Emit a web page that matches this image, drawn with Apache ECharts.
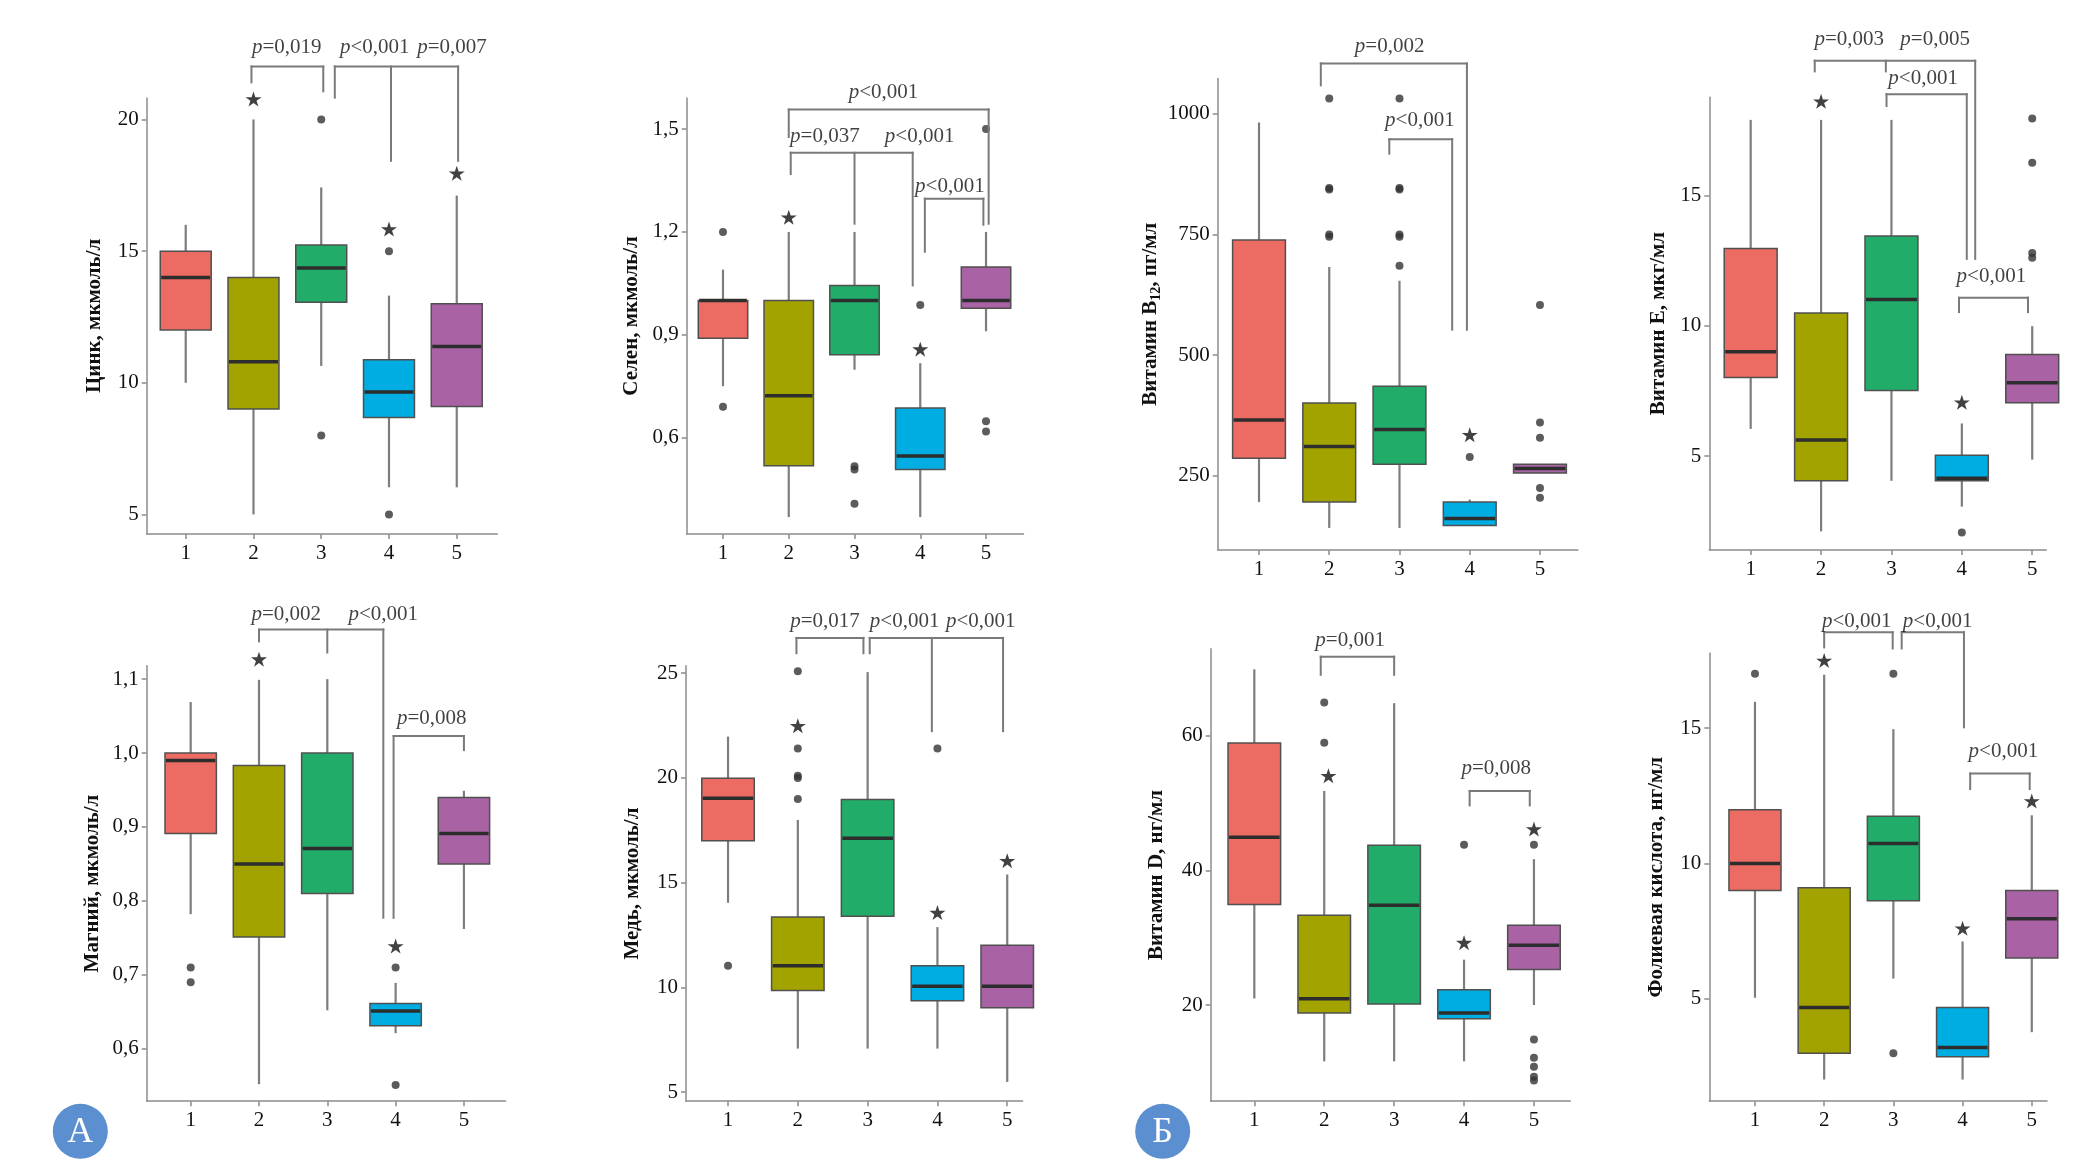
<!DOCTYPE html>
<html>
<head>
<meta charset="utf-8">
<script src="https://cdn.jsdelivr.net/npm/echarts@6/dist/echarts.min.js"></script>
<style>html,body{margin:0;padding:0;background:#fff;}#chart{width:2075px;height:1164px;}</style>
</head>
<body>
<div id="chart"></div>
<script>
// ---------- DATA ----------
const categories = ['1', '2', '3', '4', '5'];

// box = [min, Q1, median, Q3, max] per group
const zincBox = [[10, 12, 14, 15, 16], [5, 9, 10.8, 14, 20], [10.64, 13.06, 14.36, 15.23, 17.42], [6.03, 8.68, 9.65, 10.87, 13.31], [6.03, 9.1, 11.38, 13, 17.11]];
const zincOutliers = [[3, 20], [3, 8], [4, 15], [4, 5]];
const zincStars = [[2, 20.78], [4, 15.84], [5, 17.96]];
const zincTicks = ['5', '10', '15', '20'];
const zincBrackets = [{top: 22.01, legs: [[1.97, 21.41], [3.03, 21.07]]}, {top: 22.01, legs: [[3.2, 20.83], [4.03, 18.43], [5.02, 18.43]]}];
const zincPValues = [[2.49, 22.75, 'p=0,019'], [3.79, 22.75, 'p<0,001'], [4.93, 22.75, 'p=0,007']];

const seleniumBox = [[0.75, 0.89, 1.0, 1.0, 1.09], [0.368, 0.518, 0.722, 1.0, 1.2], [0.798, 0.842, 1.0, 1.044, 1.2], [0.368, 0.507, 0.546, 0.686, 0.817], [0.91, 0.977, 1.0, 1.098, 1.2]];
const seleniumOutliers = [[1, 1.2], [1, 0.69], [3, 0.516], [3, 0.507], [3, 0.407], [4, 0.987], [5, 1.5], [5, 0.648], [5, 0.618]];
const seleniumStars = [[2, 1.243], [4, 0.858]];
const seleniumTicks = ['0,6', '0,9', '1,2', '1,5'];
const seleniumBrackets = [{top: 1.557, legs: [[2.0, 1.477], [5.04, 1.224]]}, {top: 1.431, legs: [[2.03, 1.369], [3.0, 1.224], [3.885, 1.044]]}, {top: 1.297, legs: [[4.07, 1.142], [4.96, 1.221]]}];
const seleniumPValues = [[3.44, 1.606, 'p<0,001'], [2.55, 1.477, 'p=0,037'], [3.99, 1.477, 'p<0,001'], [4.45, 1.333, 'p<0,001']];

const b12Box = [[195.8, 286.7, 365.9, 738.3, 981.7], [142.3, 195.8, 310.9, 401, 682.6], [142.3, 274.2, 346, 435.5, 654], [147.4, 147.4, 162, 195.8, 201], [255.9, 255.9, 265.4, 274.2, 274.2]];
const b12Outliers = [[2, 1031.5], [2, 846], [2, 843], [2, 750], [2, 745], [3, 1031.5], [3, 846], [3, 843], [3, 750], [3, 745], [3, 685], [4, 289], [5, 604], [5, 360.7], [5, 329.2], [5, 225.1], [5, 204.6]];
const b12Stars = [[4, 335]];
const b12Ticks = ['250', '500', '750', '1000'];
const b12Brackets = [{top: 1104, legs: [[1.88, 1058.6], [3.96, 552.8]]}, {top: 947.2, legs: [[2.855, 917.2], [3.75, 552.8]]}];
const b12PValues = [[2.86, 1139, 'p=0,002'], [3.29, 985.3, 'p<0,001']];

const vitEBox = [[6.04, 8.01, 9.0, 12.96, 17.89], [2.11, 4.05, 5.61, 10.48, 17.89], [4.05, 7.51, 11.0, 13.44, 17.89], [3.06, 4.05, 4.15, 5.03, 6.25], [4.86, 7.04, 7.81, 8.89, 9.98]];
const vitEOutliers = [[4, 2.07], [5, 17.94], [5, 16.25], [5, 12.79], [5, 12.6]];
const vitEStars = [[2, 18.6], [4, 7.06]];
const vitETicks = ['5', '10', '15'];
const vitEBrackets = [{top: 20.16, legs: [[1.91, 19.75], [2.92, 19.75], [4.19, 12.56]]}, {top: 18.87, legs: [[2.93, 18.42], [4.07, 12.56]]}, {top: 11.07, legs: [[3.96, 10.52], [4.94, 10.52]]}];
const vitEPValues = [[2.40, 20.97, 'p=0,003'], [3.62, 20.97, 'p=0,005'], [3.45, 19.48, 'p<0,001'], [4.42, 11.88, 'p<0,001']];

const magBox = [[0.782, 0.891, 0.99, 1.0, 1.069], [0.552, 0.751, 0.85, 0.983, 1.099], [0.652, 0.81, 0.871, 1.0, 1.1], [0.621, 0.631, 0.651, 0.661, 0.689], [0.762, 0.85, 0.891, 0.94, 0.949]];
const magOutliers = [[1, 0.71], [1, 0.69], [4, 0.71], [4, 0.551]];
const magStars = [[2, 1.127], [4, 0.739]];
const magTicks = ['0,6', '0,7', '0,8', '0,9', '1,0', '1,1'];
const magBrackets = [{top: 1.167, legs: [[2, 1.151], [3, 1.136], [3.82, 0.777]]}, {top: 1.023, legs: [[3.97, 0.777], [5, 1.004]]}];
const magPValues = [[2.40, 1.187, 'p=0,002'], [3.82, 1.187, 'p<0,001'], [4.53, 1.047, 'p=0,008']];

const copperBox = [[14.04, 17, 19.03, 19.98, 21.97], [7.08, 9.85, 11.03, 13.36, 17.99], [7.08, 13.4, 17.12, 18.97, 25.05], [7.08, 9.36, 10.06, 11.03, 12.88], [5.49, 9.03, 10.06, 12.01, 15.39]];
const copperOutliers = [[1, 11.03], [2, 25.09], [2, 21.4], [2, 20.1], [2, 20.0], [2, 18.99], [4, 21.4]];
const copperStars = [[2, 22.49], [4, 13.57], [5, 16.05]];
const copperTicks = ['5', '10', '15', '20', '25'];
const copperBrackets = [{top: 26.68, legs: [[1.98, 25.95], [2.94, 25.95]]}, {top: 26.68, legs: [[3.03, 25.95], [3.92, 22.23], [4.94, 22.23]]}];
const copperPValues = [[2.39, 27.48, 'p=0,017'], [3.53, 27.48, 'p<0,001'], [4.62, 27.48, 'p<0,001']];

const vitDBox = [[20.97, 34.93, 44.91, 58.92, 69.87], [11.64, 18.81, 20.92, 33.32, 51.81], [11.64, 20.16, 34.82, 43.72, 64.85], [11.64, 17.95, 18.81, 22.26, 26.74], [20.0, 25.28, 28.89, 31.86, 41.67]];
const vitDOutliers = [[2, 64.96], [2, 58.98], [4, 43.83], [5, 43.83], [5, 14.88], [5, 12.18], [5, 10.84], [5, 9.33], [5, 8.79]];
const vitDStars = [[2.06, 54.07], [4, 29.27], [5, 46.15]];
const vitDTicks = ['20', '40', '60'];
const vitDBrackets = [{top: 71.75, legs: [[1.95, 69.06], [3.0, 69.06]]}, {top: 51.81, legs: [[4.08, 49.65], [4.94, 49.65]]}];
const vitDPValues = [[2.37, 74.18, 'p=0,001'], [4.46, 55.15, 'p=0,008']];

const folicBox = [[5.04, 9.0, 10.0, 11.98, 15.97], [2.02, 2.99, 4.68, 9.1, 16.97], [5.75, 8.62, 10.74, 11.74, 14.96], [2.02, 2.86, 3.2, 4.68, 7.12], [3.77, 6.51, 7.96, 9.0, 11.78]];
const folicOutliers = [[1, 17.01], [3, 17.01], [3, 2.99]];
const folicStars = [[2, 17.5], [4, 7.61], [5, 12.31]];
const folicTicks = ['5', '10', '15'];
const folicBrackets = [{top: 18.54, legs: [[2.0, 17.98], [2.99, 17.94]]}, {top: 18.54, legs: [[3.12, 17.94], [4.02, 15.03]]}, {top: 13.32, legs: [[4.11, 12.75], [4.97, 12.75]]}];
const folicPValues = [[2.47, 18.95, 'p<0,001'], [3.64, 18.95, 'p<0,001'], [4.59, 14.13, 'p<0,001']];

const axisNames = ['Цинк, мкмоль/л', 'Селен, мкмоль/л', '{n|Витамин В}{s|12}{n|, пг/мл}', 'Витамин Е, мкг/мл',
                   'Магний, мкмоль/л', 'Медь, мкмоль/л', 'Витамин D, нг/мл', 'Фолиевая кислота, нг/мл'];

// ---------- LAYOUT / STYLE ----------
const colors = ['#EC6B62', '#A3A300', '#21AC6A', '#00ADE2', '#A962A4'];
const FONT = 'Liberation Serif';
const layouts = [
  {left: 146.7, top: 97.9, width: 350.7, height: 436, xMin: 0.424, xMax: 5.6, yMin: 4.26, yMax: 20.82, gap: 42},
  {left: 686.7, top: 97.9, width: 336.8, height: 436, xMin: 0.448, xMax: 5.57, yMin: 0.319, yMax: 1.591, gap: 45},
  {left: 1217.7, top: 78.4, width: 360.2, height: 471.5, xMin: 0.412, xMax: 5.54, yMin: 96.8, yMax: 1073, gap: 46},
  {left: 1709.3, top: 97.2, width: 337, height: 452.7, xMin: 0.412, xMax: 5.2, yMin: 1.40, yMax: 18.76, gap: 40},
  {left: 146.7, top: 665.8, width: 358.9, height: 435.4, xMin: 0.356, xMax: 5.61, yMin: 0.529, yMax: 1.118, gap: 44},
  {left: 686, top: 665.8, width: 336.6, height: 435.4, xMin: 0.398, xMax: 5.22, yMin: 4.57, yMax: 25.35, gap: 43},
  {left: 1210.7, top: 648.7, width: 359.6, height: 452.5, xMin: 0.376, xMax: 5.52, yMin: 5.71, yMax: 72.94, gap: 44},
  {left: 1709.3, top: 653.1, width: 337.7, height: 448.1, xMin: 0.34, xMax: 5.22, yMin: 1.22, yMax: 17.77, gap: 42}
];

const panels = [
  {box: zincBox, out: zincOutliers, star: zincStars, ticks: zincTicks, br: zincBrackets, p: zincPValues},
  {box: seleniumBox, out: seleniumOutliers, star: seleniumStars, ticks: seleniumTicks, br: seleniumBrackets, p: seleniumPValues},
  {box: b12Box, out: b12Outliers, star: b12Stars, ticks: b12Ticks, br: b12Brackets, p: b12PValues},
  {box: vitEBox, out: vitEOutliers, star: vitEStars, ticks: vitETicks, br: vitEBrackets, p: vitEPValues},
  {box: magBox, out: magOutliers, star: magStars, ticks: magTicks, br: magBrackets, p: magPValues},
  {box: copperBox, out: copperOutliers, star: copperStars, ticks: copperTicks, br: copperBrackets, p: copperPValues},
  {box: vitDBox, out: vitDOutliers, star: vitDStars, ticks: vitDTicks, br: vitDBrackets, p: vitDPValues},
  {box: folicBox, out: folicOutliers, star: folicStars, ticks: folicTicks, br: folicBrackets, p: folicPValues}
];

const STAR = 'path://M50,2 L61.8,38.2 L100,38.2 L69.1,60.6 L80.9,97 L50,74.6 L19.1,97 L30.9,60.6 L0,38.2 L38.2,38.2 Z';
const axisColor = '#8c8c8c';
const catValues = categories.map((c, i) => i + 1);

const grids = [], xAxes = [], yAxes = [], series = [];

panels.forEach((pn, i) => {
  const L = layouts[i];
  const tickVals = pn.ticks.map(t => parseFloat(t.replace(',', '.')));
  grids.push({left: L.left, top: L.top, width: L.width, height: L.height});
  xAxes.push({
    gridIndex: i, type: 'value', min: L.xMin, max: L.xMax,
    axisLine: {show: true, onZero: false, lineStyle: {color: axisColor, width: 1.5}},
    axisTick: {show: true, customValues: catValues, length: 5, lineStyle: {color: axisColor, width: 1.5}},
    axisLabel: {customValues: catValues, formatter: v => categories[Math.round(v) - 1] || '', margin: 9,
                fontFamily: FONT, fontSize: 21, color: '#111'},
    splitLine: {show: false}
  });
  yAxes.push({
    gridIndex: i, type: 'value', min: L.yMin, max: L.yMax,
    axisLine: {show: true, onZero: false, lineStyle: {color: axisColor, width: 1.5}},
    axisTick: {show: true, customValues: tickVals, length: 5, lineStyle: {color: axisColor, width: 1.5}},
    axisLabel: {customValues: tickVals, margin: 8, fontFamily: FONT, fontSize: 21, color: '#111',
                formatter: v => { const k = tickVals.findIndex(t => Math.abs(t - v) < 1e-6); return k >= 0 ? pn.ticks[k] : ''; }},
    splitLine: {show: false},
    name: axisNames[i], nameLocation: 'middle', nameGap: L.gap, nameRotate: 90,
    nameTextStyle: {fontFamily: FONT, fontWeight: 'bold', fontSize: 21, color: '#111',
      rich: {n: {fontFamily: FONT, fontWeight: 'bold', fontSize: 21, color: '#111', lineHeight: 26, verticalAlign: 'middle'},
             s: {fontFamily: FONT, fontWeight: 'bold', fontSize: 14, color: '#111', lineHeight: 15, verticalAlign: 'bottom'}}}
  });

  // boxes
  series.push({
    type: 'custom', xAxisIndex: i, yAxisIndex: i, silent: true, z: 2,
    data: pn.box.map((b, k) => [k + 1].concat(b)),
    encode: {x: 0, y: [1, 2, 3, 4, 5]},
    renderItem: (params, api) => {
      const x = api.value(0), hw = 0.376;
      const vmin = api.value(1), q1 = api.value(2), med = api.value(3), q3 = api.value(4), vmax = api.value(5);
      const tl = api.coord([x - hw, q3]), brp = api.coord([x + hw, q1]);
      const c = api.coord([x, med]), top = api.coord([x, vmax]), bot = api.coord([x, vmin]);
      const wStyle = {stroke: '#7d7d7d', lineWidth: 2.2};
      return {type: 'group', children: [
        {type: 'line', shape: {x1: c[0], y1: top[1], x2: c[0], y2: tl[1]}, style: wStyle},
        {type: 'line', shape: {x1: c[0], y1: brp[1], x2: c[0], y2: bot[1]}, style: wStyle},
        {type: 'rect', shape: {x: tl[0], y: tl[1], width: brp[0] - tl[0], height: Math.max(brp[1] - tl[1], 1)},
         style: {fill: colors[params.dataIndex], stroke: '#505050', lineWidth: 1.5}},
        {type: 'line', shape: {x1: tl[0] + 1, y1: c[1], x2: brp[0] - 1, y2: c[1]}, style: {stroke: '#2d2d2d', lineWidth: 3.5}}
      ]};
    }
  });
  // outliers
  series.push({
    type: 'scatter', xAxisIndex: i, yAxisIndex: i, silent: true, clip: false, z: 3,
    symbol: 'circle', symbolSize: 8, itemStyle: {color: '#333'}, data: pn.out
  });
  // stars
  series.push({
    type: 'scatter', xAxisIndex: i, yAxisIndex: i, silent: true, clip: false, z: 3,
    symbol: STAR, symbolSize: [16, 15], itemStyle: {color: '#111'}, data: pn.star
  });
  // brackets
  series.push({
    type: 'custom', xAxisIndex: i, yAxisIndex: i, silent: true, clip: false, z: 4,
    data: pn.br.map(b => [b.legs[0][0], b.top]),
    encode: {x: 0, y: 1},
    renderItem: (params, api) => {
      const b = pn.br[params.dataIndex];
      const xs = b.legs.map(l => l[0]);
      const y = api.coord([xs[0], b.top])[1];
      const x1 = api.coord([Math.min.apply(null, xs), b.top])[0];
      const x2 = api.coord([Math.max.apply(null, xs), b.top])[0];
      const st = {stroke: '#7a7a7a', lineWidth: 2, lineCap: 'square'};
      const ch = [{type: 'line', shape: {x1: x1, y1: y, x2: x2, y2: y}, style: st}];
      b.legs.forEach(l => {
        const p = api.coord([l[0], l[1]]);
        ch.push({type: 'line', shape: {x1: p[0], y1: y, x2: p[0], y2: p[1]}, style: st});
      });
      return {type: 'group', children: ch};
    }
  });
  // p-value labels
  series.push({
    type: 'scatter', xAxisIndex: i, yAxisIndex: i, silent: true, clip: false, z: 5,
    symbol: 'circle', symbolSize: 1, itemStyle: {color: 'rgba(0,0,0,0)'},
    data: pn.p.map(d => ({value: [d[0], d[1]], txt: d[2]})),
    label: {show: true, position: 'inside',
      formatter: prm => '{i|' + prm.data.txt.charAt(0) + '}{n|' + prm.data.txt.slice(1) + '}',
      rich: {i: {fontFamily: FONT, fontStyle: 'italic', fontSize: 21, color: '#111'},
             n: {fontFamily: FONT, fontSize: 21, color: '#111'}}}
  });
});

const badges = [['А', 80.3, 1131.3], ['Б', 1162.7, 1131.3]];
const graphic = [];
badges.forEach(b => {
  graphic.push({type: 'circle', shape: {cx: b[1], cy: b[2], r: 27.5}, style: {fill: '#5B8FCF'}, silent: true});
  graphic.push({type: 'text', x: b[1], y: b[2] + 1, silent: true,
    style: {text: b[0], fill: '#fff', font: '36px "Liberation Serif"', align: 'center', verticalAlign: 'middle',
            textAlign: 'center', textVerticalAlign: 'middle'}});
});

const chart = echarts.init(document.getElementById('chart'), null, {renderer: 'canvas'});
chart.setOption({
  backgroundColor: '#ffffff',
  animation: false,
  grid: grids, xAxis: xAxes, yAxis: yAxes, series: series, graphic: graphic
});
</script>
</body>
</html>
